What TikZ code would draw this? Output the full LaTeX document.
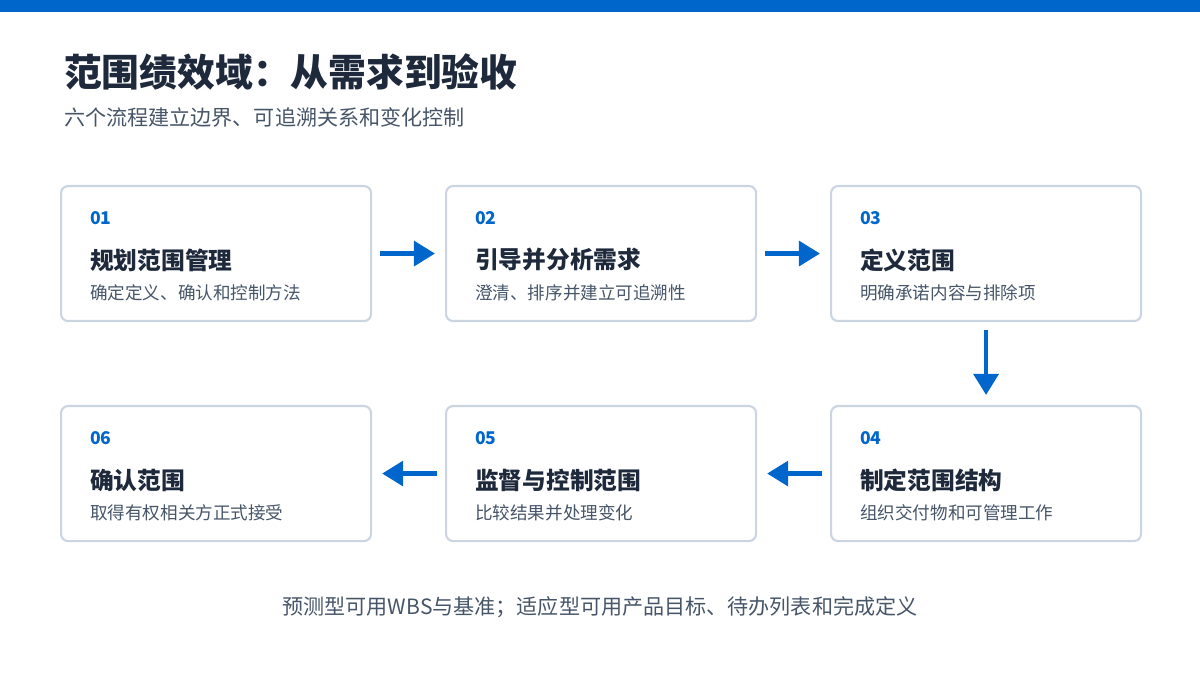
\documentclass[tikz,border=0pt]{standalone}
\usepackage{fontspec}
\setmainfont{Noto Sans CJK SC}
\usetikzlibrary{arrows.meta}
\definecolor{blu}{HTML}{0066CC}
\definecolor{ink}{HTML}{1E293B}
\definecolor{gry}{HTML}{475569}
\definecolor{bord}{HTML}{CBD5E1}
\begin{document}
\begin{tikzpicture}[x=0.02cm,y=-0.02cm,
 box/.style={draw=bord,line width=1.2pt,rounded corners=4pt,fill=white,minimum width=310*0.02cm,minimum height=135*0.02cm,inner sep=0},
 num/.style={anchor=west,text=blu,font=\fontsize{10}{12}\selectfont\bfseries},
 ttl/.style={anchor=west,text=ink,font=\fontsize{13.5}{16}\selectfont\bfseries},
 dsc/.style={anchor=west,text=gry,font=\fontsize{10}{12}\selectfont},
 arr/.style={draw=blu,line width=2.6pt,-{Triangle[length=12pt,width=14pt]}}]
\useasboundingbox (0,0) rectangle (1200,675);
\fill[blu] (0,0) rectangle (1200,12);
\node[anchor=west,text=ink,font=\fontsize{21.5}{26}\selectfont\bfseries] (title) at (58,72) {范围绩效域：从需求到验收};
\node[anchor=west,text=gry,font=\fontsize{12}{14}\selectfont] (sub) at (58,117) {六个流程建立边界、可追溯关系和变化控制};
\foreach \n/\x/\y/\num/\t/\d in {
 b1/60/185/01/规划范围管理/确定定义、确认和控制方法,
 b2/445/185/02/引导并分析需求/澄清、排序并建立可追溯性,
 b3/830/185/03/定义范围/明确承诺内容与排除项,
 b4/830/405/04/制定范围结构/组织交付物和可管理工作,
 b5/445/405/05/监督与控制范围/比较结果并处理变化,
 b6/60/405/06/确认范围/取得有权相关方正式接受}{
 \node[box,anchor=north west] (\n) at (\x,\y) {};
 \node[num] (\n n) at (\x+24,\y+33) {\num};
 \node[ttl] (\n t) at (\x+24,\y+75) {\t};
 \node[dsc] (\n d) at (\x+24,\y+108) {\d};
}
\draw[arr] ([xshift=8*0.02cm]b1.east) -- ([xshift=-10*0.02cm]b2.west);
\draw[arr] ([xshift=8*0.02cm]b2.east) -- ([xshift=-10*0.02cm]b3.west);
\draw[arr] ([yshift=-8*0.02cm]b3.south) -- ([yshift=10*0.02cm]b4.north);
\draw[arr] ([xshift=-8*0.02cm]b4.west) -- ([xshift=10*0.02cm]b5.east);
\draw[arr] ([xshift=-8*0.02cm]b5.west) -- ([xshift=10*0.02cm]b6.east);
\node[text=gry,font=\fontsize{12}{14}\selectfont] (foot) at (600,607) {预测型可用WBS与基准；适应型可用产品目标、待办列表和完成定义};
\end{tikzpicture}
\end{document}
